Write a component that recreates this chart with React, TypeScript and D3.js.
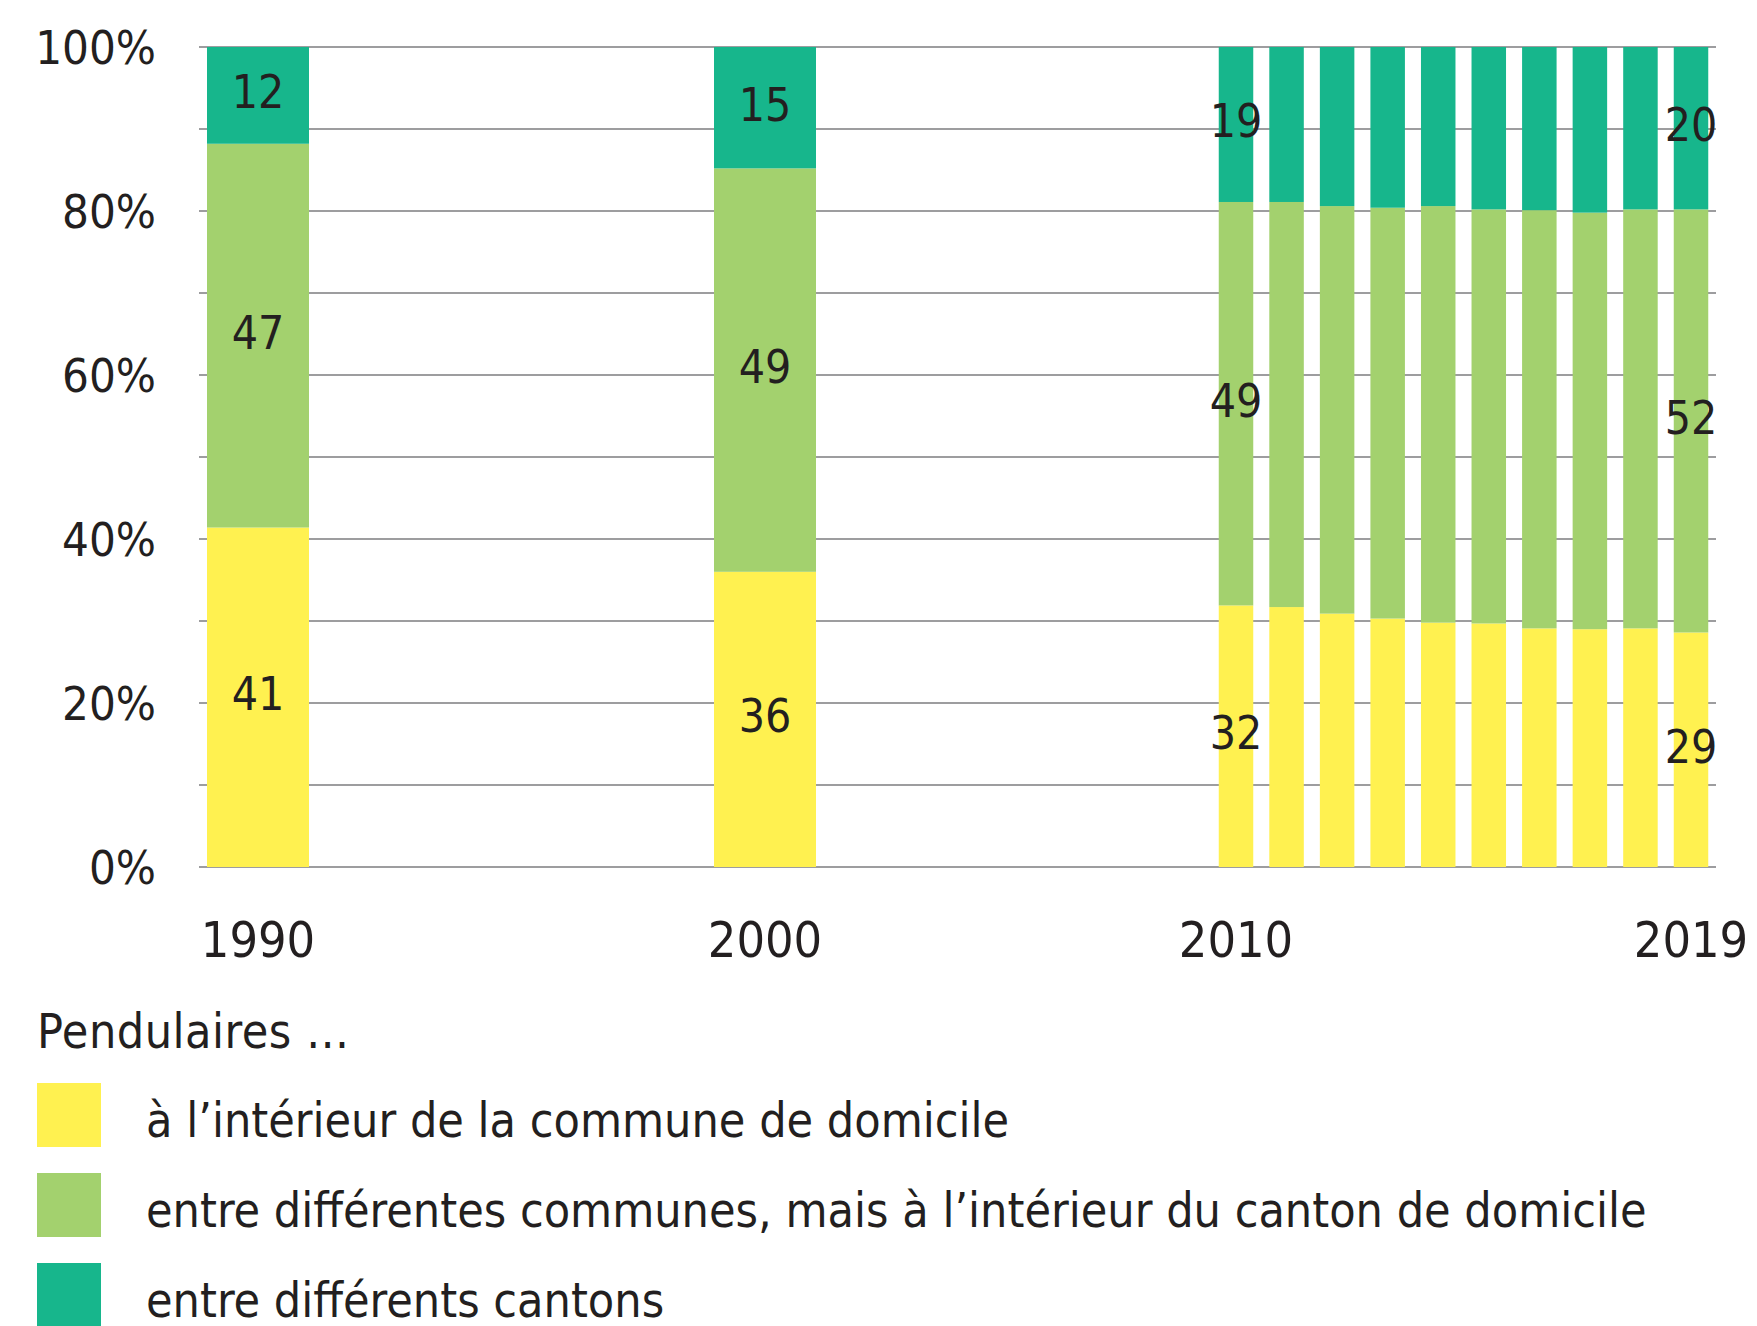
import React, { useEffect, useRef } from "react";
import * as d3 from "d3";

// years shown on the chart
const years = [1990, 2000, 2010, 2011, 2012, 2013, 2014, 2015, 2016, 2017, 2018, 2019];
// shares in % per commuter type
const withinCommune = [41.4, 36.0, 31.9, 31.7, 30.9, 30.3, 29.8, 29.7, 29.1, 29.0, 29.1, 28.6];
const withinCanton = [46.8, 49.2, 49.2, 49.4, 49.7, 50.1, 50.8, 50.5, 51.0, 50.8, 51.1, 51.6];
const betweenCantons = [11.8, 14.8, 18.9, 18.9, 19.4, 19.6, 19.4, 19.8, 19.9, 20.2, 19.8, 19.8];

const keys = ["commune", "canton", "cantons"];
const legendTitle = "Pendulaires …";
const legendLabels = [
  "à l’intérieur de la commune de domicile",
  "entre différentes communes, mais à l’intérieur du canton de domicile",
  "entre différents cantons",
];
const yTicks = [0, 20, 40, 60, 80, 100];
const gridValues = [0, 10, 20, 30, 40, 50, 60, 70, 80, 90, 100];
const xLabelYears = [1990, 2000, 2010, 2019];
const labelledYears = [1990, 2000, 2010, 2019];

const colors = { commune: "#FFF150", canton: "#A3D16E", cantons: "#17B68C" };
const FONT = "'Liberation Sans Narrow', 'DejaVu Sans Condensed', sans-serif";

const W = 1757;
const H = 1326;

function App() {
  const svgRef = useRef(null);

  useEffect(() => {
    const svg = d3.select(svgRef.current);
    svg.selectAll("*").remove();

    const data = years.map((y, i) => ({
      year: y,
      commune: withinCommune[i],
      canton: withinCanton[i],
      cantons: betweenCantons[i],
    }));
    const layers = d3.stack().keys(keys)(data);

    // census years are drawn wide, the yearly survey narrow
    const xScale = d3
      .scaleLinear()
      .domain([1990, 2000, 2010, 2019])
      .range([258, 765, 1236, 1691]);
    const barWidth = (year) => (year < 2010 ? 102 : 34.5);

    const yScale = d3.scaleLinear().domain([0, 100]).range([867, 47]);

    // gridlines
    svg
      .append("g")
      .selectAll("line")
      .data(gridValues)
      .join("line")
      .attr("x1", 199)
      .attr("x2", 1716)
      .attr("y1", (d) => yScale(d))
      .attr("y2", (d) => yScale(d))
      .attr("stroke", "#9d9d9f")
      .attr("stroke-width", 2.2);

    // bars
    svg
      .append("g")
      .selectAll(".layer")
      .data(layers)
      .join("g")
      .attr("class", "layer")
      .attr("fill", (layer) => colors[layer.key])
      .selectAll("rect")
      .data((layer) => layer)
      .join("rect")
      .attr("x", (s) => xScale(s.data.year) - barWidth(s.data.year) / 2)
      .attr("width", (s) => barWidth(s.data.year))
      .attr("y", (s) => yScale(s[1]))
      .attr("height", (s) => yScale(s[0]) - yScale(s[1]));

    // value labels
    svg
      .append("g")
      .selectAll("g")
      .data(layers)
      .join("g")
      .selectAll("text")
      .data((layer) => layer.filter((s) => labelledYears.includes(s.data.year)))
      .join("text")
      .attr("x", (s) => xScale(s.data.year))
      .attr("y", (s) => yScale((s[0] + s[1]) / 2))
      .attr("dy", "0.28em")
      .attr("text-anchor", "middle")
      .attr("font-family", FONT)
      .attr("font-size", 46)
      .attr("fill", "#231f20")
      .text((s) => Math.round(s[1] - s[0]));

    // y axis labels
    svg
      .append("g")
      .selectAll("text")
      .data(yTicks)
      .join("text")
      .attr("x", 156)
      .attr("y", (d) => yScale(d))
      .attr("dy", "0.36em")
      .attr("text-anchor", "end")
      .attr("font-family", FONT)
      .attr("font-size", 47)
      .attr("fill", "#231f20")
      .text((d) => d + "%");

    // x axis labels
    svg
      .append("g")
      .selectAll("text")
      .data(xLabelYears)
      .join("text")
      .attr("x", (d) => xScale(d))
      .attr("y", 957)
      .attr("text-anchor", "middle")
      .attr("font-family", FONT)
      .attr("font-size", 50)
      .attr("fill", "#231f20")
      .text((d) => d);

    // legend
    const legend = svg.append("g").attr("font-family", FONT).attr("fill", "#231f20");
    legend
      .append("text")
      .attr("x", 37)
      .attr("y", 1048)
      .attr("font-size", 48)
      .attr("letter-spacing", 0.5)
      .text(legendTitle);
    const rows = legend
      .selectAll("g")
      .data(keys)
      .join("g")
      .attr("transform", (d, i) => `translate(37, ${1083 + i * 90})`);
    rows
      .append("rect")
      .attr("width", 64)
      .attr("height", 64)
      .attr("fill", (d) => colors[d]);
    rows
      .append("text")
      .attr("x", 109)
      .attr("y", 54)
      .attr("font-size", 48)
      .text((d, i) => legendLabels[i]);
  }, []);

  return (
    <svg
      ref={svgRef}
      width={W}
      height={H}
      style={{ position: "absolute", left: 0, top: 0, background: "#fff" }}
    />
  );
}

export default App;
